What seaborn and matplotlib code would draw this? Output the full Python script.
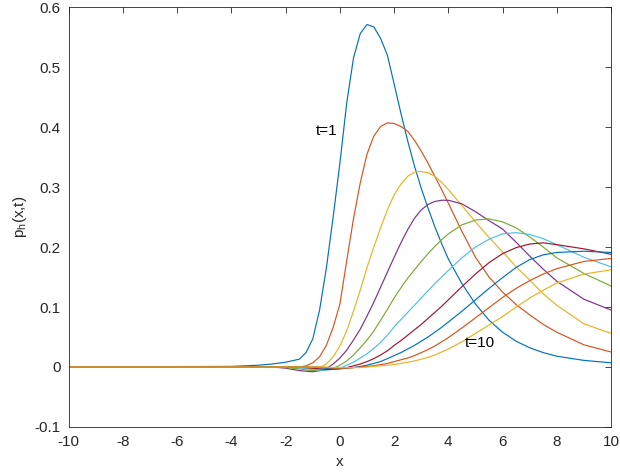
import pandas as pd
import seaborn as sns
import matplotlib.pyplot as plt

# common x grid, finer where the curves bend the most
x_grid = [-10, -4, -3, -2.5, -2, -1.5, -1.25, -1, -0.75, -0.5, -0.25, 0, 0.25, 0.5,
          0.75, 1, 1.25, 1.5, 1.75, 2, 2.25, 2.5, 2.75, 3, 3.25, 3.5, 3.75, 4,
          4.5, 5, 5.5, 6, 6.5, 7, 7.5, 8, 9, 10]

p_t1 = [0, 0.001, 0.003, 0.005, 0.008, 0.013, 0.024, 0.047, 0.095, 0.165,
        0.25, 0.34, 0.44, 0.515, 0.556, 0.571, 0.567, 0.548, 0.52, 0.472,
        0.423, 0.377, 0.335, 0.298, 0.265, 0.234, 0.206, 0.18, 0.139, 0.105,
        0.078, 0.058, 0.043, 0.032, 0.024, 0.018, 0.011, 0.007]
p_t2 = [0, 0, 0, 0, 0, 0, 0.002, 0.007, 0.017, 0.036,
        0.066, 0.105, 0.177, 0.247, 0.307, 0.355, 0.385, 0.401, 0.407, 0.406,
        0.401, 0.393, 0.378, 0.36, 0.34, 0.318, 0.296, 0.273, 0.226, 0.183,
        0.15, 0.125, 0.104, 0.087, 0.071, 0.058, 0.037, 0.025]
p_t3 = [0, 0, 0, 0, 0, -0.001, -0.002, -0.003, -0.001, 0.005,
        0.017, 0.035, 0.06, 0.093, 0.128, 0.166, 0.2, 0.232, 0.262, 0.287,
        0.305, 0.318, 0.325, 0.326, 0.324, 0.318, 0.308, 0.296, 0.269, 0.242,
        0.216, 0.192, 0.167, 0.145, 0.122, 0.103, 0.072, 0.056]
p_t4 = [0, 0, 0, 0, -0.002, -0.006, -0.007, -0.008, -0.006, -0.003,
        0.005, 0.015, 0.028, 0.045, 0.063, 0.085, 0.108, 0.133, 0.158, 0.183,
        0.207, 0.229, 0.248, 0.262, 0.271, 0.276, 0.278, 0.278, 0.272, 0.259,
        0.244, 0.23, 0.208, 0.185, 0.163, 0.143, 0.113, 0.095]
p_t5 = [0, 0, 0, 0, -0.001, -0.003, -0.005, -0.006, -0.006, -0.005,
        -0.002, 0.003, 0.01, 0.02, 0.032, 0.045, 0.06, 0.078, 0.096, 0.115,
        0.132, 0.148, 0.162, 0.176, 0.189, 0.201, 0.212, 0.222, 0.237, 0.245,
        0.247, 0.242, 0.232, 0.217, 0.2, 0.182, 0.156, 0.135]
p_t6 = [0, 0, 0, 0, 0, -0.001, -0.003, -0.004, -0.005, -0.005,
        -0.004, -0.002, 0.003, 0.008, 0.015, 0.022, 0.031, 0.041, 0.053, 0.067,
        0.079, 0.091, 0.103, 0.115, 0.127, 0.139, 0.15, 0.161, 0.182, 0.2,
        0.213, 0.222, 0.224, 0.221, 0.214, 0.204, 0.183, 0.167]
p_t7 = [0, 0, 0, 0, 0, 0, -0.001, -0.002, -0.003, -0.004,
        -0.004, -0.003, -0.001, 0.002, 0.005, 0.009, 0.014, 0.02, 0.027, 0.036,
        0.044, 0.053, 0.062, 0.071, 0.081, 0.091, 0.101, 0.112, 0.134, 0.155,
        0.174, 0.189, 0.199, 0.205, 0.207, 0.204, 0.197, 0.188]
p_t8 = [0, 0, 0, 0, 0, 0, 0, 0, -0.001, -0.002,
        -0.003, -0.003, -0.002, -0.001, 0.001, 0.003, 0.006, 0.009, 0.014, 0.019,
        0.024, 0.03, 0.036, 0.043, 0.05, 0.058, 0.066, 0.075, 0.093, 0.112,
        0.131, 0.149, 0.166, 0.179, 0.187, 0.191, 0.193, 0.191]
p_t9 = [0, 0, 0, 0, 0, 0, 0, 0, 0, -0.001,
        -0.002, -0.002, -0.002, -0.001, 0, 0.001, 0.002, 0.004, 0.006, 0.009,
        0.012, 0.015, 0.019, 0.024, 0.029, 0.035, 0.042, 0.049, 0.065, 0.082,
        0.099, 0.116, 0.131, 0.144, 0.155, 0.164, 0.176, 0.181]
p_t10 = [0, 0, 0, 0, 0, 0, 0, 0, 0, 0,
         -0.001, -0.001, -0.001, -0.001, -0.001, 0, 0.001, 0.002, 0.003, 0.004,
         0.006, 0.008, 0.01, 0.013, 0.016, 0.02, 0.025, 0.03, 0.042, 0.056,
         0.07, 0.084, 0.1, 0.115, 0.128, 0.14, 0.155, 0.162]

curves = [p_t1, p_t2, p_t3, p_t4, p_t5, p_t6, p_t7, p_t8, p_t9, p_t10]

# matlab default colour order (wraps after 7)
colors = ['#0072BD', '#D95319', '#EDB120', '#7E2F8E', '#77AC30', '#4DBEEE',
          '#A2142F', '#0072BD', '#D95319', '#EDB120']

frames = []
for i, p in enumerate(curves):
    frames.append(pd.DataFrame({'x': x_grid, 'p': p, 't': 't%d' % (i + 1)}))
df = pd.concat(frames, ignore_index=True)

sns.set_style('white')
plt.rcParams['font.family'] = ['Liberation Sans', 'DejaVu Sans']

fig, ax = plt.subplots(figsize=(6.2, 4.76), dpi=100)
fig.subplots_adjust(left=0.111, right=0.9855, bottom=0.103, top=0.985)

sns.lineplot(data=df, x='x', y='p', hue='t', palette=colors, estimator=None,
             sort=False, legend=False, linewidth=0.85, ax=ax)

ax.set_xlim(-10, 10)
ax.set_ylim(-0.1, 0.6)
ax.set_xticks(range(-10, 11, 2))
ax.set_yticks([-0.1, 0, 0.1, 0.2, 0.3, 0.4, 0.5, 0.6])
ax.set_yticklabels(['-0.1', '0', '0.1', '0.2', '0.3', '0.4', '0.5', '0.6'])
ax.set_xticklabels([str(v) for v in range(-10, 11, 2)])
ax.tick_params(direction='in', top=True, right=True, length=4.5, width=0.6,
               color='#262626', labelcolor='#262626', labelsize=11, pad=6)
for s in ax.spines.values():
    s.set_color('#262626')
    s.set_linewidth(0.6)

ax.set_xlabel('x', fontsize=11, color='#262626')
ax.set_ylabel(r'p$_\mathregular{h}$(x,t)', fontsize=11, color='#262626')

ax.text(-0.9, 0.393, 't=1', fontsize=11, va='center', ha='left', color='k')
ax.text(4.6, 0.04, 't=10', fontsize=11, va='center', ha='left', color='k')

plt.savefig('out.png')
